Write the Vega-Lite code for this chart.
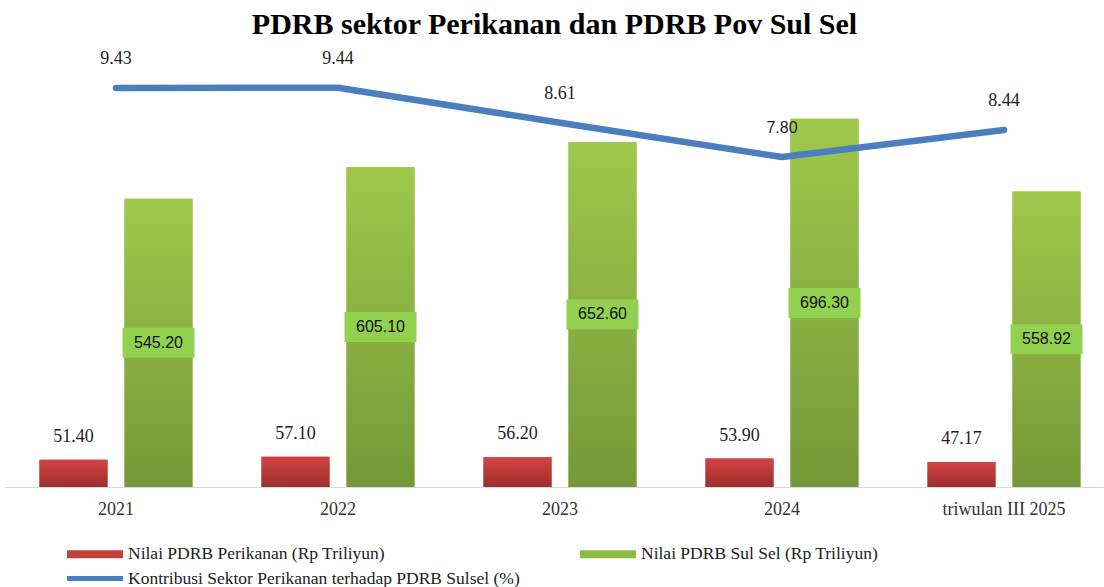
{
  "$schema": "https://vega.github.io/schema/vega-lite/v6.json",
  "width": 1099,
  "height": 423,
  "autosize": {"type": "none"},
  "padding": {"left": 5, "top": 64, "right": 0, "bottom": 100},
  "background": "white",
  "config": {
    "view": {"stroke": null},
    "font": "Liberation Serif",
    "legend": {"labelFont": "Liberation Serif", "labelFontSize": 17.5, "labelColor": "#222222"}
  },
  "title": {
    "text": "PDRB sektor Perikanan dan PDRB Pov Sul Sel",
    "font": "Liberation Serif",
    "fontSize": 30,
    "fontWeight": "bold",
    "color": "#000000",
    "anchor": "middle",
    "offset": 10
  },
  "data": {
    "values": [
      {"tahun": "2021", "perikanan": 51.40, "sulsel": 545.20, "kontribusi": 9.43},
      {"tahun": "2022", "perikanan": 57.10, "sulsel": 605.10, "kontribusi": 9.44},
      {"tahun": "2023", "perikanan": 56.20, "sulsel": 652.60, "kontribusi": 8.61},
      {"tahun": "2024", "perikanan": 53.90, "sulsel": 696.30, "kontribusi": 7.80},
      {"tahun": "triwulan III 2025", "perikanan": 47.17, "sulsel": 558.92, "kontribusi": 8.44}
    ]
  },
  "encoding": {
    "x": {
      "field": "tahun",
      "type": "nominal",
      "sort": null,
      "scale": {"range": [0, 1110], "paddingInner": 0.311, "paddingOuter": 0.1555},
      "axis": {
        "title": null,
        "labelAngle": 0,
        "ticks": false,
        "grid": false,
        "domainColor": "#d9d9d9",
        "domainWidth": 1,
        "labelFont": "Liberation Serif",
        "labelFontSize": 18,
        "labelColor": "#333333",
        "labelPadding": 13
      }
    }
  },
  "layer": [
    {
      "transform": [{"fold": ["perikanan", "sulsel"], "as": ["key", "nilai"]}],
      "encoding": {
        "xOffset": {"field": "key", "type": "nominal", "scale": {"domain": ["perikanan", "sulsel"], "paddingInner": 0.2, "paddingOuter": 0}},
        "y": {"field": "nilai", "type": "quantitative", "scale": {"domain": [0, 800], "nice": false}, "axis": null}
      },
      "layer": [
        {
          "mark": {"type": "bar"},
          "encoding": {
            "color": {
              "field": "key",
              "type": "nominal",
              "scale": {"domain": ["perikanan", "sulsel"], "range": ["#c0403a", "#8dbb44"]},
              "legend": {
                "orient": "none",
                "legendX": 62,
                "legendY": 462,
                "direction": "horizontal",
                "columns": 2,
                "columnPadding": 195,
                "title": null,
                "padding": 0,
                "symbolType": "M-1,-0.143L1,-0.143L1,0.143L-1,0.143Z",
                "symbolSize": 3136,
                "symbolStrokeWidth": 0,
                "symbolOpacity": 1,
                "labelFont": "Liberation Serif",
                "labelFontSize": 17.5,
                "labelColor": "#222222",
                "labelOffset": 5,
                "labelLimit": 0,
                "labelExpr": "datum.label === 'perikanan' ? 'Nilai PDRB Perikanan (Rp Triliyun)' : 'Nilai PDRB Sul Sel (Rp Triliyun)'"
              }
            }
          }
        },
        {
          "transform": [{"filter": "datum.key === 'perikanan'"}],
          "mark": {
            "type": "bar",
            "fill": {"gradient": "linear", "x1": 0, "y1": 0, "x2": 0, "y2": 1,
              "stops": [{"offset": 0, "color": "#d44343"}, {"offset": 1, "color": "#9c2e2c"}]}
          }
        },
        {
          "transform": [{"filter": "datum.key === 'sulsel'"}],
          "mark": {
            "type": "bar",
            "fill": {"gradient": "linear", "x1": 0, "y1": 0, "x2": 0, "y2": 1,
              "stops": [{"offset": 0, "color": "#a0c84b"}, {"offset": 1, "color": "#759838"}]}
          }
        },
        {
          "transform": [{"filter": "datum.key === 'perikanan'"}],
          "mark": {"type": "text", "dy": -23, "font": "Liberation Serif", "fontSize": 18, "color": "#1e1e1e", "baseline": "middle"},
          "encoding": {"text": {"field": "nilai", "type": "quantitative", "format": ".2f"}}
        }
      ]
    },
    {
      "encoding": {
        "y": {"field": "kontribusi", "type": "quantitative", "scale": {"domain": [0, 10], "nice": false}, "axis": null}
      },
      "layer": [
        {
          "mark": {"type": "line", "strokeWidth": 6.5, "strokeCap": "round", "strokeJoin": "round"},
          "encoding": {
            "stroke": {
              "datum": "kontribusi",
              "type": "nominal",
              "scale": {"domain": ["kontribusi"], "range": ["#4a7ebf"]},
              "legend": {
                "orient": "none",
                "legendX": 59.5,
                "legendY": 484,
                "title": null,
                "padding": 0,
                "symbolType": "stroke",
                "symbolSize": 3136,
                "symbolStrokeWidth": 5,
                "labelFont": "Liberation Serif",
                "labelFontSize": 17.5,
                "labelColor": "#222222",
                "labelOffset": 2.5,
                "labelLimit": 0,
                "labelExpr": "'Kontribusi  Sektor Perikanan terhadap PDRB Sulsel (%)'"
              }
            }
          }
        },
        {
          "transform": [{"filter": "datum.tahun !== '2024'"}],
          "mark": {"type": "text", "dy": -29, "font": "Liberation Serif", "fontSize": 18, "color": "#1e1e1e", "baseline": "middle"},
          "encoding": {"text": {"field": "kontribusi", "type": "quantitative", "format": ".2f"}}
        },
        {
          "transform": [{"filter": "datum.tahun === '2024'"}],
          "mark": {"type": "text", "dy": -29, "font": "Liberation Sans", "fontSize": 16, "color": "#1e1e1e", "baseline": "middle"},
          "encoding": {"text": {"field": "kontribusi", "type": "quantitative", "format": ".2f"}}
        }
      ]
    },
    {
      "transform": [{"fold": ["sulsel"], "as": ["key", "nilai"]}],
      "encoding": {
        "xOffset": {"field": "key", "type": "nominal", "scale": {"domain": ["perikanan", "sulsel"], "paddingInner": 0.2, "paddingOuter": 0}},
        "y": {"field": "nilai", "type": "quantitative", "scale": {"domain": [0, 1600], "nice": false}, "axis": null}
      },
      "layer": [
        {
          "mark": {"type": "point", "shape": "M-1,-0.4167L1,-0.4167L1,0.4167L-1,0.4167Z", "size": 5184, "filled": true, "color": "#92d050", "opacity": 1, "strokeWidth": 0}
        },
        {
          "mark": {"type": "text", "font": "Liberation Sans", "fontSize": 16, "color": "#111111", "baseline": "middle"},
          "encoding": {"text": {"field": "nilai", "type": "quantitative", "format": ".2f"}}
        }
      ]
    }
  ],
  "resolve": {"scale": {"y": "independent"}}
}
